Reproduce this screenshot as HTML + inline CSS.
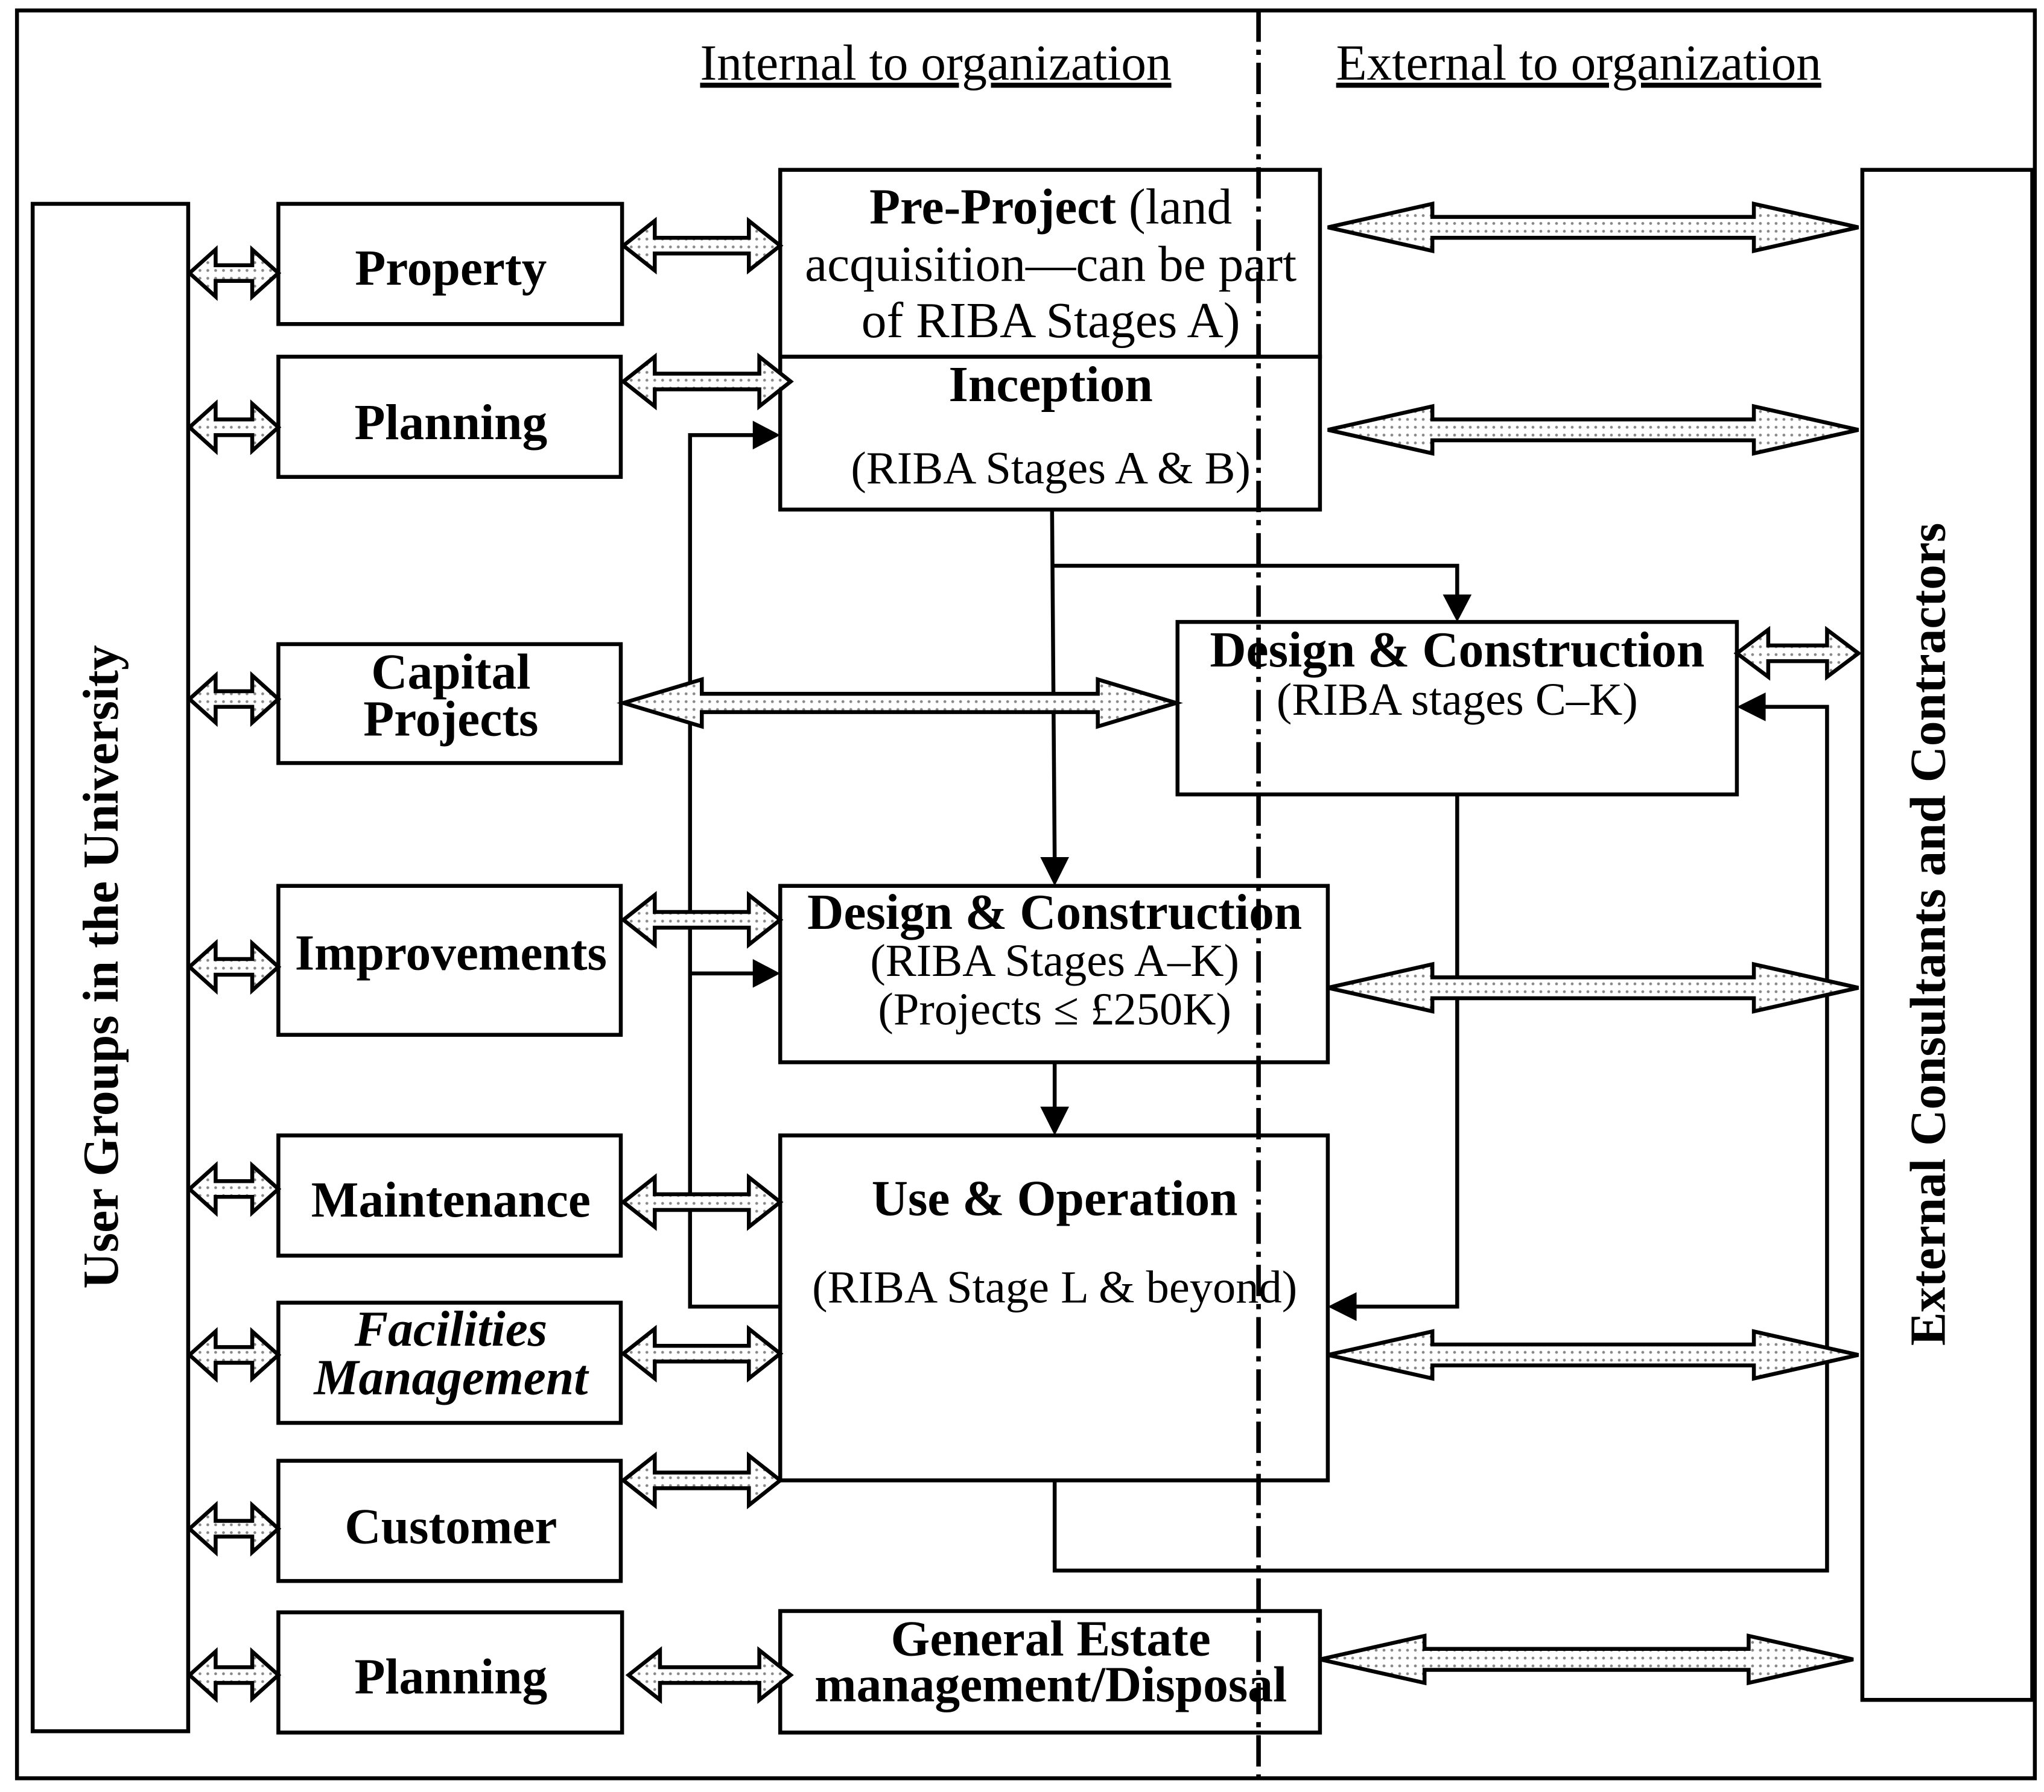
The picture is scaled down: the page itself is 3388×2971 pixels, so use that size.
<!DOCTYPE html>
<html><head><meta charset="utf-8"><style>
html,body{margin:0;padding:0;background:#fff}
svg{display:block}
text{font-family:"Liberation Serif",serif;fill:#000}
.b{font-weight:bold}
.s{font-size:35.3px}
</style></head><body>
<svg width="3388" height="2971" viewBox="0 0 1564 1371.5" xmlns="http://www.w3.org/2000/svg">
<defs>
<pattern id="dots" width="6" height="6" patternUnits="userSpaceOnUse">
<rect width="6" height="6" fill="#fff"/><circle cx="3" cy="3" r="1.1" fill="#888"/>
</pattern>
</defs>
<g fill="none" stroke="#000" stroke-width="3">
<rect x="13" y="8" width="1544" height="1353"/>
<rect x="25" y="156" width="119" height="1169"/>
<rect x="1425" y="130" width="130" height="1171"/>
<rect x="213" y="156" width="263" height="92"/>
<rect x="213" y="273" width="262" height="92"/>
<rect x="213" y="493" width="262" height="91"/>
<rect x="213" y="678" width="262" height="114"/>
<rect x="213" y="869" width="262" height="92"/>
<rect x="213" y="997" width="262" height="92"/>
<rect x="213" y="1118" width="262" height="92"/>
<rect x="213" y="1234" width="263" height="92"/>
<rect x="597" y="130" width="413" height="143"/>
<rect x="597" y="273" width="413" height="117"/>
<rect x="901" y="476" width="428" height="132"/>
<rect x="597" y="678" width="419" height="135"/>
<rect x="597" y="869" width="419" height="264"/>
<rect x="597" y="1233" width="413" height="93"/>
<polyline points="597,1000 528,1000 528,333 578,333"/>
<polyline points="528,745 578,745"/>
<polyline points="805,390 807,657"/>
<polyline points="805,433 1115,433 1115,456"/>
<polyline points="1115,608 1115,1000 1037,1000"/>
<polyline points="807,813 807,849"/>
<polyline points="807,1133 807,1202 1398,1202 1398,541 1350,541"/>
</g>
<g fill="#000">
<polygon points="597,333 576,322 576,344"/>
<polygon points="597,745 576,734 576,756"/>
<polygon points="807,678 796,656 818,656"/>
<polygon points="1115,476 1104,455 1126,455"/>
<polygon points="1016,1000 1038,989 1038,1011"/>
<polygon points="807,869 796,847 818,847"/>
<polygon points="1329,541 1351,530 1351,552"/>
</g>
<line x1="963" y1="8" x2="963" y2="1361" stroke="#000" stroke-width="3.5" stroke-dasharray="24,6,4,6"/>
<g id="arrows" fill="url(#dots)" stroke="#000" stroke-width="3" stroke-linejoin="miter">
</g>
<script>
(function(){
var g=document.getElementById('arrows');
function da(x1,x2,y,h,H,L){
 var p=[[x1,y],[x1+L,y-H],[x1+L,y-h],[x2-L,y-h],[x2-L,y-H],[x2,y],[x2-L,y+H],[x2-L,y+h],[x1+L,y+h],[x1+L,y+H]];
 var e=document.createElementNS('http://www.w3.org/2000/svg','polygon');
 e.setAttribute('points',p.map(function(q){return q.join(',')}).join(' '));
 g.appendChild(e);
}
[209,327,535,740,910,1037,1170,1282].forEach(function(y){da(145,213,y,6,18,20);});
da(477,597,188,6,19,24);da(477,605,292,6,19,24);da(477,900,538,7,18,60);
da(477,597,704,6,19,24);da(477,597,920,6,19,24);da(477,597,1036,6,19,24);
da(477,597,1133,6,19,24);da(481,605,1282,6,19,24);
da(1016,1422,174,8,18,80);da(1016,1422,329,8,18,80);da(1329,1422,500,6,18,24);
da(1016,1422,756,8,18,80);da(1016,1422,1037,8,18,80);da(1010,1418,1270,8,18,80);
})();
</script>
<g font-size="38.5" text-anchor="middle">
<text x="716" y="61" text-decoration="underline">Internal to organization</text>
<text x="1208" y="61" text-decoration="underline">External to organization</text>
<text x="345" y="218" class="b">Property</text>
<text x="345" y="336" class="b">Planning</text>
<text x="345" y="527" class="b">Capital</text>
<text x="345" y="563" class="b">Projects</text>
<text x="345" y="742" class="b">Improvements</text>
<text x="345" y="931" class="b">Maintenance</text>
<text x="345" y="1030" class="b" font-style="italic">Facilities</text>
<text x="345" y="1067" class="b" font-style="italic">Management</text>
<text x="345" y="1181" class="b">Customer</text>
<text x="345" y="1296" class="b">Planning</text>
<text x="804" y="171"><tspan class="b">Pre-Project</tspan> (land</text>
<text x="804" y="215">acquisition—can be part</text>
<text x="804" y="258">of RIBA Stages A)</text>
<text x="804" y="307" class="b">Inception</text>
<text x="804" y="370" class="s">(RIBA Stages A &amp; B)</text>
<text x="1115" y="510" class="b">Design &amp; Construction</text>
<text x="1115" y="547" class="s">(RIBA stages C–K)</text>
<text x="807" y="711" class="b">Design &amp; Construction</text>
<text x="807" y="747" class="s">(RIBA Stages A–K)</text>
<text x="807" y="784" class="s">(Projects ≤ £250K)</text>
<text x="807" y="930" class="b">Use &amp; Operation</text>
<text x="807" y="997" class="s">(RIBA Stage L &amp; beyond)</text>
<text x="804" y="1267" class="b">General Estate</text>
<text x="804" y="1302" class="b">management/Disposal</text>
<text transform="translate(90,740) rotate(-90)" class="b">User Groups in the University</text>
<text transform="translate(1488,715) rotate(-90)" class="b">External Consultants and Contractors</text>
</g>
</svg>
</body></html>
